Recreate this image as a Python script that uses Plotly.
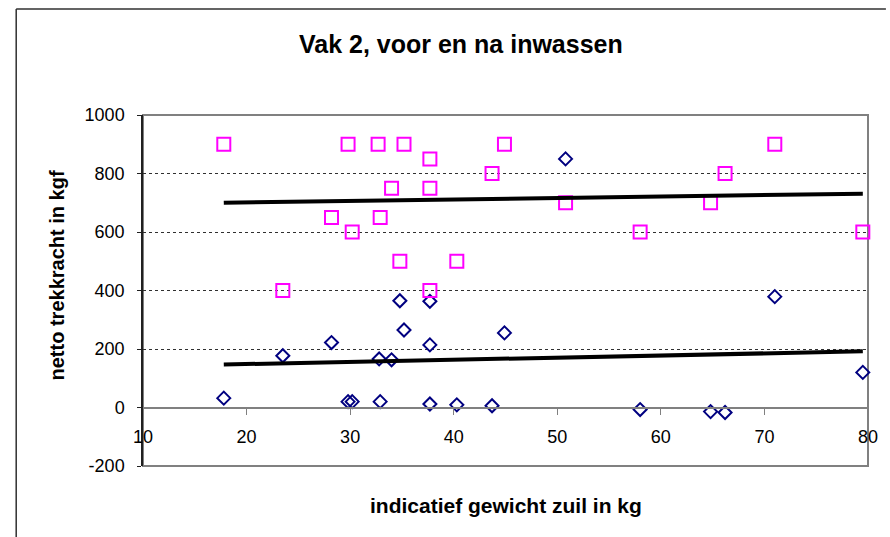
import plotly.graph_objects as go

# ---- data ----
gewicht = [17.8, 23.5, 28.2, 29.8, 30.2, 32.8, 32.9, 34.0, 34.8, 35.2,
           37.7, 37.7, 37.7, 40.3, 43.7, 44.9, 50.8, 58.0, 64.8, 66.2, 71.0, 79.5]
voor = [32, 177, 222, 20, 20, 166, 20, 163, 365, 265,
        12, 214, 363, 9, 6, 255, 850, -7, -14, -17, 379, 120]

gewicht_na = [17.8, 23.5, 28.2, 29.8, 30.2, 32.7, 32.9, 34.0, 34.8, 35.2,
              37.7, 37.7, 37.7, 40.3, 43.7, 44.9, 50.8, 58.0, 64.8, 66.2, 71.0, 79.5]
na = [900, 400, 650, 900, 600, 900, 650, 750, 500, 900,
      850, 750, 400, 500, 800, 900, 700, 600, 700, 800, 900, 600]

trend_x = [17.8, 79.5]
trend_voor = [147, 192]
trend_na = [700, 731]

x_ticks = [10, 20, 30, 40, 50, 60, 70, 80]
y_ticks = [-200, 0, 200, 400, 600, 800, 1000]

title = "Vak 2, voor en na inwassen"
x_title = "indicatief gewicht zuil in kg"
y_title = "netto trekkracht in kgf"

# ---- layout geometry (body margin removed, so figure pixels == page pixels) ----
W, H = 890, 537
L, T = 143, 115
R = W - 872
B = H - 466
pw, ph = W - L - R, H - T - B

def px_to_paper_x(px):
    return (px - L) / pw

def px_to_paper_y(py):
    return 1 - (py - T) / ph

FONT = "Liberation Sans, Arial, sans-serif"

fig = go.Figure()

fig.add_trace(go.Scatter(
    x=gewicht, y=voor, mode="markers",
    marker=dict(symbol="diamond-open", size=10, color="#000080",
                line=dict(width=2, color="#000080")),
    showlegend=False, cliponaxis=False))
fig.add_trace(go.Scatter(
    x=gewicht_na, y=na, mode="markers",
    marker=dict(symbol="square-open", size=13, color="#FF00FF",
                line=dict(width=2, color="#FF00FF")),
    showlegend=False, cliponaxis=False))
fig.add_trace(go.Scatter(
    x=trend_x, y=trend_voor, mode="lines",
    line=dict(color="black", width=4), showlegend=False))
fig.add_trace(go.Scatter(
    x=trend_x, y=trend_na, mode="lines",
    line=dict(color="black", width=4), showlegend=False))

y0, y1 = y_ticks[0], y_ticks[-1]
x_axis_pos = (0 - y0) / (y1 - y0)

fig.update_layout(
    width=W, height=H,
    margin=dict(l=L, r=R, t=T, b=B),
    paper_bgcolor="white", plot_bgcolor="white",
    font=dict(family=FONT, color="black", size=18),
    showlegend=False,
    xaxis=dict(
        range=[x_ticks[0], x_ticks[-1]],
        tickvals=x_ticks, ticktext=[str(v) for v in x_ticks],
        anchor="free", position=x_axis_pos,
        showline=True, linecolor="#808080", linewidth=2,
        ticks="outside", ticklen=6, tickcolor="#808080", tickwidth=1,
        ticklabelstandoff=7, ticklabeloverflow="allow",
        showgrid=False, zeroline=False,
        tickfont=dict(size=18, family=FONT),
    ),
    yaxis=dict(
        range=[y0, y1],
        tickvals=y_ticks, ticktext=[str(v) for v in y_ticks],
        showline=True, linecolor="#202020", linewidth=1.5,
        ticks="outside", ticklen=4, tickcolor="#202020", tickwidth=1,
        ticklabelstandoff=9, ticklabeloverflow="allow",
        showgrid=True, gridcolor="#303030", gridwidth=1, griddash="dot",
        zeroline=False,
        tickfont=dict(size=18, family=FONT),
    ),
    shapes=[
        dict(type="rect", xref="x domain", yref="y domain", x0=0, x1=1, y0=0, y1=1,
             line=dict(color="#808080", width=2), layer="below"),
        dict(type="line", xref="paper", yref="paper",
             x0=px_to_paper_x(15.5), x1=px_to_paper_x(15.5),
             y0=px_to_paper_y(9), y1=px_to_paper_y(537),
             line=dict(color="#303030", width=1.5)),
        dict(type="line", xref="paper", yref="paper",
             x0=px_to_paper_x(15.5), x1=px_to_paper_x(890),
             y0=px_to_paper_y(9), y1=px_to_paper_y(9),
             line=dict(color="#303030", width=1.5)),
    ],
    annotations=[
        dict(text="<b>" + title + "</b>", xref="paper", yref="paper",
             x=px_to_paper_x(463), y=px_to_paper_y(44),
             xanchor="center", yanchor="middle", showarrow=False,
             font=dict(size=25, family=FONT)),
        dict(text="<b>" + x_title + "</b>", xref="paper", yref="paper",
             x=px_to_paper_x(508), y=px_to_paper_y(505),
             xanchor="center", yanchor="middle", showarrow=False,
             font=dict(size=21, family=FONT)),
        dict(text="<b>" + y_title + "</b>", xref="paper", yref="paper",
             x=px_to_paper_x(57), y=px_to_paper_y(275), textangle=-90,
             xanchor="center", yanchor="middle", showarrow=False,
             font=dict(size=20, family=FONT)),
    ],
)

fig.write_html(
    "out.html",
    config={"displayModeBar": False},
    post_script="document.body.style.margin='0';document.documentElement.style.overflow='hidden';",
)
